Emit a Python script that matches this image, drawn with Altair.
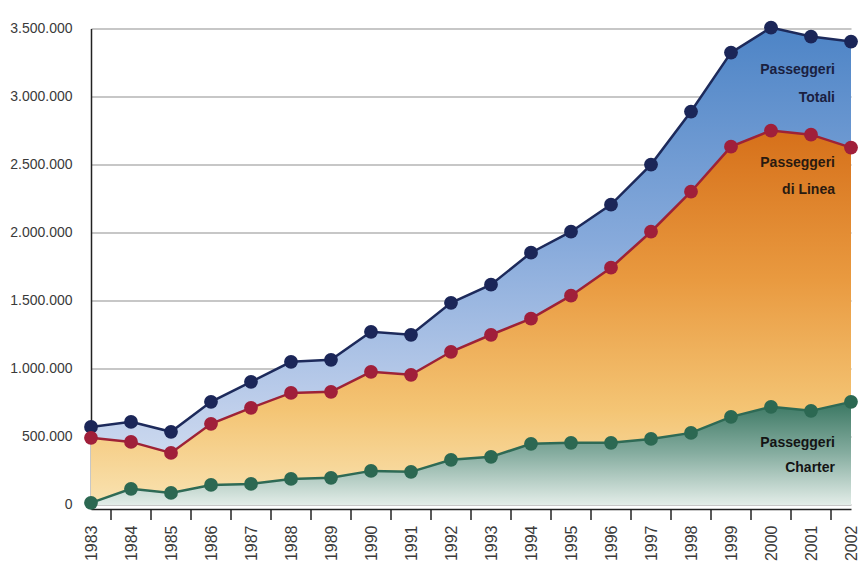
import altair as alt
import pandas as pd

years = list(range(1983, 2003))
totali = [573000, 610000, 537000, 757000, 904000, 1051000, 1066000, 1272000, 1250000, 1485000,
          1618000, 1853000, 2007000, 2206000, 2500000, 2890000, 3323000, 3507000, 3441000, 3404000]
linea = [493000, 463000, 382000, 596000, 713000, 823000, 831000, 978000, 956000, 1125000,
         1250000, 1368000, 1537000, 1743000, 2007000, 2301000, 2632000, 2750000, 2720000, 2625000]
charter = [15000, 118000, 88000, 147000, 154000, 191000, 199000, 250000, 243000, 331000,
           353000, 449000, 456000, 456000, 485000, 529000, 647000, 721000, 691000, 757000]
y_ticks = [0, 500000, 1000000, 1500000, 2000000, 2500000, 3000000, 3500000]

ann_text = ["Passeggeri", "Totali", "Passeggeri", "di Linea", "Passeggeri", "Charter"]
ann_year = [2001.6] * 6
ann_value = [3198000, 2993000, 2515000, 2316000, 455000, 272000]
ann_group = ["t", "t", "l", "l", "c", "c"]

W = 760
H = 480.5
FONT = "Liberation Sans, Arial, Helvetica, sans-serif"

df = pd.DataFrame({"year": years, "totali": totali, "linea": linea, "charter": charter})
tick_df = pd.DataFrame({"year": years[:-1]})
ann_df = pd.DataFrame({"x": ann_year, "v": ann_value, "text": ann_text, "g": ann_group})

xs = alt.Scale(domain=[1983, 2002], nice=False, zero=False)
ys = alt.Scale(domain=[-30000, 3500000], nice=False, zero=False)

x_axis = alt.Axis(values=years, format="d", labelAngle=-90, tickSize=0,
                  labelPadding=16, labelFontSize=16, labelFont=FONT,
                  labelColor="#3a3a3a", grid=False, domainColor="#222222",
                  domainWidth=1.5, labelOverlap=False, labelFlush=False,
                  labelBound=False)
y_axis = alt.Axis(values=y_ticks, tickSize=0, labelPadding=19, labelFontSize=14,
                  labelFont=FONT, labelColor="#3a3a3a", grid=True, gridColor="#b4b4b4",
                  gridWidth=1.5, domainColor="#222222", domainWidth=1.5,
                  labelOverlap=False,
                  labelExpr="replace(format(datum.value, ','), regexp(',', 'g'), '.')")


def x_enc(field="year"):
    return alt.X(f"{field}:Q", scale=xs, title=None, axis=x_axis)


def y_enc(field):
    return alt.Y(f"{field}:Q", scale=ys, title=None, axis=y_axis)


base = alt.Chart(df)


def grad(stops):
    return alt.Gradient(gradient="linear", x1=0, y1=0, x2=0, y2=1,
                        stops=[alt.GradientStop(color=c, offset=o) for o, c in stops])


def area(field, stops):
    return base.mark_area(color=grad(stops), opacity=1).encode(
        x=x_enc(), y=y_enc(field), y2=alt.value(H))


def line(field, color):
    return base.mark_line(color=color, strokeWidth=2.5).encode(x=x_enc(), y=y_enc(field))


def dots(field, color):
    return base.mark_circle(color=color, size=190, opacity=1).encode(x=x_enc(), y=y_enc(field))


a_tot = area("totali", [(0, "#4d84c6"), (0.45, "#87aadb"), (0.8, "#bfcfeb"), (1, "#dae4f3")])
a_lin = area("linea", [(0, "#d6701a"), (0.4, "#e99a40"), (0.75, "#f4c575"), (1, "#f9e3b2")])
a_cha = area("charter", [(0, "#3a7762"), (0.5, "#86ada0"), (1, "#e3ede8")])

ticks = alt.Chart(tick_df).transform_calculate(xm="datum.year + 0.5").mark_rule(
    color="#222222", strokeWidth=1.5).encode(
    x=x_enc("xm"), y=alt.value(H), y2=alt.value(H + 11))

ann_colors = alt.Scale(domain=["t", "l", "c"], range=["#1a2040", "#2a1a10", "#141414"])
ann = alt.Chart(ann_df).mark_text(align="right", baseline="middle", font=FONT,
                                  fontWeight="bold", fontSize=14).encode(
    x=x_enc("x"), y=y_enc("v"), text="text:N",
    color=alt.Color("g:N", scale=ann_colors, legend=None))

chart = alt.layer(
    a_tot, a_lin, a_cha, ticks,
    line("totali", "#1d2a5b"), line("linea", "#9e2236"), line("charter", "#2e6a55"),
    dots("totali", "#1b2658"), dots("linea", "#a01f3a"), dots("charter", "#2c6852"),
    ann,
).properties(
    width=W, height=H, background="white",
    autosize=alt.AutoSizeParams(type="none"),
    padding={"left": 83, "top": 20.5, "right": 9, "bottom": 56},
).configure_view(stroke=None).configure_axisX(labelOverlap=False)

chart.save("out.html", embed_options={"renderer": "svg", "actions": False})
